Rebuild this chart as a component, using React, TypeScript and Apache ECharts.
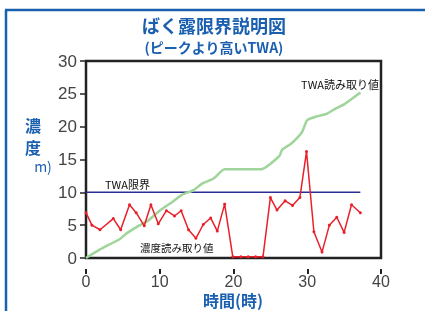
import React, { useEffect, useRef } from "react";
import * as echarts from "echarts";

const xTicks = [0, 10, 20, 30, 40];
const yTicks = [0, 5, 10, 15, 20, 25, 30];

const concentration: [number, number][] = [
  [0, 6.9], [0.8, 5.0], [1.9, 4.3], [3.7, 6.0], [4.7, 4.3], [5.9, 8.1], [6.8, 6.9],
  [7.9, 4.9], [8.8, 8.1], [9.8, 5.2], [10.9, 7.2], [12, 6.4], [12.9, 7.2], [13.9, 4.3],
  [14.9, 3.0], [15.9, 5.1], [16.9, 6.1], [17.8, 4.1], [18.8, 8.2], [19.9, 0.2], [21, 0.2],
  [22, 0.2], [23, 0.2], [24, 0.2], [25, 9.2], [25.9, 7.3], [27, 8.7], [28, 8.0], [29, 9.2],
  [29.9, 16.2], [30.9, 4.0], [32, 0.9], [33, 5.0], [34, 6.2], [35, 3.9], [36, 8.1], [37.2, 6.9],
];

const twaReading: [number, number][] = [
  [0, 0], [1.9, 1.3], [4.6, 2.9], [5.5, 3.75], [7.3, 5.0], [8.3, 5.6], [10.1, 7.3],
  [11.4, 8.3], [13, 9.6], [14.6, 10.35], [15.7, 11.3], [17.3, 12.1], [18.8, 13.5],
  [23.7, 13.5], [26.2, 15.5], [26.6, 16.5], [27.8, 17.4], [29.3, 19.2], [30.0, 21.0],
  [31.4, 21.6], [32.7, 22.0], [33.9, 22.8], [35.0, 23.4], [37.2, 25.2],
];

const twaLimit: [number, number][] = [[0, 10], [37.2, 10]];

const BLUE = "#1a5fb0";
const CJK = "'Noto Sans CJK JP', 'Noto Sans', sans-serif";

export default function App() {
  const ref = useRef<HTMLDivElement>(null);
  useEffect(() => {
    if (!ref.current) return;
    const chart = echarts.init(ref.current, null, { renderer: "svg" });
    chart.setOption({
      animation: false,
      grid: {
        left: 86, right: 44, top: 61, bottom: 53,
        show: true, borderColor: "#222", borderWidth: 2.5,
      },
      xAxis: [
        {
          type: "value", min: 0, max: 40, interval: 10,
          axisLine: { show: false }, axisTick: { show: false },
          axisLabel: { show: false }, splitLine: { show: false },
        },
        {
          type: "value", min: 0, max: 40, interval: 10, position: "bottom", offset: 11,
          axisLine: { show: false },
          axisTick: { show: true, length: 5, lineStyle: { color: "#222", width: 2 } },
          axisLabel: {
            margin: 5, fontSize: 16, lineHeight: 14, color: "#444", fontFamily: "Liberation Sans",
            formatter: (v: number) => (xTicks.includes(v) ? String(v) : ""),
          },
          splitLine: { show: false },
        },
      ],
      yAxis: {
        type: "value", min: 0, max: 30, interval: 5,
        axisLine: { show: false },
        axisTick: { show: true, length: 6, lineStyle: { color: "#222", width: 1.5 } },
        axisLabel: {
          margin: 9, fontSize: 17, color: "#444", fontFamily: "Liberation Sans",
          formatter: (v: number) => (yTicks.includes(v) ? String(v) : ""),
        },
        splitLine: { show: false },
      },
      series: [
        {
          type: "line", data: twaLimit, symbol: "none",
          lineStyle: { color: "#2b2d96", width: 1.5 }, z: 2,
        },
        {
          type: "line", data: twaReading, symbol: "none", smooth: 0.2,
          lineStyle: { color: "#9fd49a", width: 2.5 }, z: 3,
        },
        {
          type: "line", data: concentration, symbol: "circle", symbolSize: 3,
          itemStyle: { color: "#e8202a" },
          lineStyle: { color: "#e8202a", width: 1.5 }, z: 4,
        },
      ],
      graphic: [
        { type: "line", shape: { x1: 6, y1: 10, x2: 6, y2: 311 }, style: { stroke: BLUE, lineWidth: 2.5 } },
        { type: "line", shape: { x1: 5, y1: 10, x2: 425, y2: 10 }, style: { stroke: BLUE, lineWidth: 2.5 } },
        {
          type: "text", x: 214, y: 25,
          style: { text: "ばく露限界説明図", fill: BLUE, font: `bold 18px ${CJK}`, lineHeight: 18, align: "center", verticalAlign: "middle" },
        },
        {
          type: "text", x: 214, y: 47,
          style: { text: "(ピークより高いTWA)", fill: BLUE, font: `bold 14px ${CJK}`, lineHeight: 14, align: "center", verticalAlign: "middle" },
        },
        {
          type: "text", x: 33, y: 125,
          style: { text: "濃", fill: BLUE, font: `bold 16px ${CJK}`, lineHeight: 16, align: "center", verticalAlign: "middle" },
        },
        {
          type: "text", x: 33, y: 147,
          style: { text: "度", fill: BLUE, font: `bold 16px ${CJK}`, lineHeight: 16, align: "center", verticalAlign: "middle" },
        },
        {
          type: "text", x: 43, y: 166,
          style: { text: "m)", fill: BLUE, font: `14px ${CJK}`, lineHeight: 14, align: "center", verticalAlign: "middle" },
        },
        {
          type: "text", x: 233, y: 300,
          style: { text: "時間(時)", fill: BLUE, font: `bold 16px ${CJK}`, lineHeight: 16, align: "center", verticalAlign: "middle" },
        },
        {
          type: "text", x: 105, y: 184,
          style: { text: "TWA限界", fill: "#111", font: `11px ${CJK}`, align: "left", verticalAlign: "middle" },
        },
        {
          type: "text", x: 140, y: 247,
          style: { text: "濃度読み取り値", fill: "#111", font: `10.5px ${CJK}`, align: "left", verticalAlign: "middle" },
        },
        {
          type: "text", x: 379, y: 84,
          style: { text: "TWA読み取り値", fill: "#111", font: `11px ${CJK}`, align: "right", verticalAlign: "middle" },
        },
      ],
    });
    return () => chart.dispose();
  }, []);
  return <div ref={ref} style={{ position: "fixed", left: 0, top: 0, width: 425, height: 311 }} />;
}
